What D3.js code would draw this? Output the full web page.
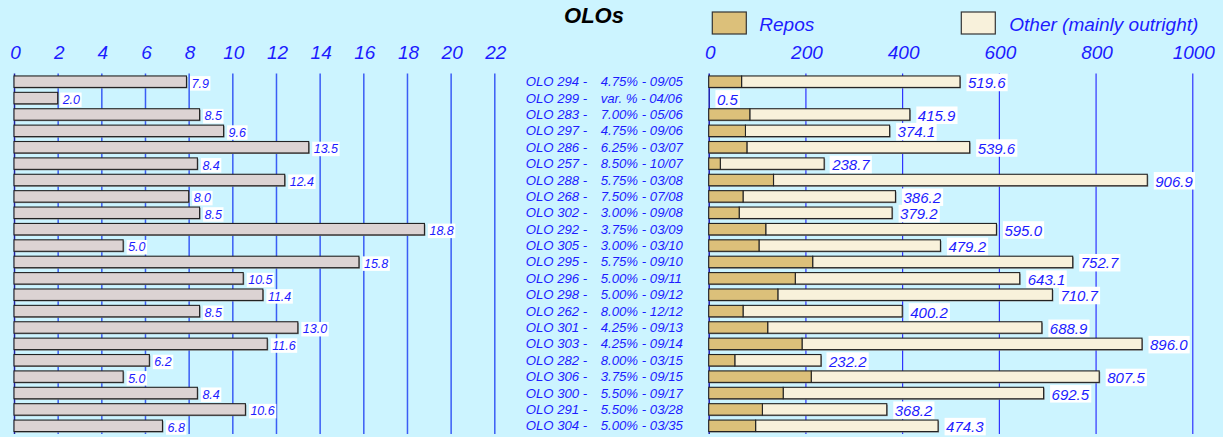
<!DOCTYPE html>
<html>
<head>
<meta charset="utf-8">
<script src="https://cdn.jsdelivr.net/npm/d3@7"></script>
<style>
  body { margin: 0; background: #ccf4ff; }
  svg { display: block; font-family: "Liberation Sans", Arial, sans-serif; }
</style>
</head>
<body>
<svg id="chart" width="1223" height="437"></svg>
<script>
// bond names and coupon / maturity (middle column)
const bondNames = ["OLO 294 -", "OLO 299 -", "OLO 283 -", "OLO 297 -", "OLO 286 -", "OLO 257 -",
  "OLO 288 -", "OLO 268 -", "OLO 302 -", "OLO 292 -", "OLO 305 -", "OLO 295 -", "OLO 296 -",
  "OLO 298 -", "OLO 262 -", "OLO 301 -", "OLO 303 -", "OLO 282 -", "OLO 306 -", "OLO 300 -",
  "OLO 291 -", "OLO 304 -"];
const couponMaturity = ["4.75% - 09/05", "var. % - 04/06", "7.00% - 05/06", "4.75% - 09/06",
  "6.25% - 03/07", "8.50% - 10/07", "5.75% - 03/08", "7.50% - 07/08", "3.00% - 09/08",
  "3.75% - 03/09", "3.00% - 03/10", "5.75% - 09/10", "5.00% - 09/11", "5.00% - 09/12",
  "8.00% - 12/12", "4.25% - 09/13", "4.25% - 09/14", "8.00% - 03/15", "3.75% - 09/15",
  "5.50% - 09/17", "5.50% - 03/28", "5.00% - 03/35"];

// left panel values
const leftValues = [7.9, 2.0, 8.5, 9.6, 13.5, 8.4, 12.4, 8.0, 8.5, 18.8, 5.0, 15.8, 10.5, 11.4,
  8.5, 13.0, 11.6, 6.2, 5.0, 8.4, 10.6, 6.8];

// right panel: repos part and total (repos + other)
const repos = [68, 0, 85, 76, 79, 24, 134, 71, 63, 118, 104, 215, 179, 143, 71, 122, 193, 54,
  212, 154, 111, 97];
const totals = [519.6, 0.5, 415.9, 374.1, 539.6, 238.7, 906.9, 386.2, 379.2, 595.0, 479.2, 752.7,
  643.1, 710.7, 400.2, 688.9, 896.0, 232.2, 807.5, 692.5, 368.2, 474.3];

const leftTicks = [0, 2, 4, 6, 8, 10, 12, 14, 16, 18, 20, 22];
const rightTicks = [0, 200, 400, 600, 800, 1000];

const svg = d3.select("#chart");
const blue = "#1c1cff";
const gridTop = 73.5, gridBottom = 434;

const y = d3.scaleBand()
  .domain(d3.range(bondNames.length))
  .range([gridTop, gridBottom])
  .paddingInner(0.3)
  .paddingOuter(0.15);

const xl = d3.scaleLinear().domain([0, 22]).range([14, 494.3]);
const xr = d3.scaleLinear().domain([0, 1000]).range([708.7, 1192.3]);

// title
svg.append("text")
  .attr("x", 594).attr("y", 22.5)
  .attr("text-anchor", "middle")
  .attr("font-size", 22).attr("font-weight", "bold").attr("font-style", "italic")
  .attr("fill", "#000")
  .text("OLOs");

// legend
const legend = [
  { name: "Repos", fill: "#dcc07a", x: 712.3, tx: 759.3 },
  { name: "Other (mainly outright)", fill: "#f8f1db", x: 961.3, tx: 1009.3 }
];
legend.forEach(l => {
  svg.append("rect").attr("x", l.x).attr("y", 12).attr("width", 34).attr("height", 22)
    .attr("fill", l.fill).attr("stroke", "#333").attr("stroke-width", 1.2);
  svg.append("text").attr("x", l.tx).attr("y", 30.5)
    .attr("font-size", 19).attr("font-style", "italic").attr("fill", blue)
    .text(l.name);
});

// axes with gridlines
function drawAxis(scale, ticks, color, width) {
  const g = svg.append("g")
    .attr("transform", `translate(0,${gridTop})`)
    .call(d3.axisTop(scale).tickValues(ticks).tickFormat(d3.format("d"))
      .tickSize(-(gridBottom - gridTop)).tickPadding(15));
  g.select(".domain").remove();
  g.selectAll(".tick line").attr("stroke", color).attr("stroke-width", width);
  g.selectAll(".tick text")
    .attr("font-size", 19).attr("font-style", "italic").attr("fill", blue)
    .attr("font-family", "'Liberation Sans', Arial, sans-serif")
    .attr("dx", 1);
  return g;
}
const gl = drawAxis(xl, leftTicks, "#3a5cf5", 1.5);
gl.selectAll(".tick line").filter(d => d === 0).attr("stroke", "#2020a0");
const gr = drawAxis(xr, rightTicks, "#2020ff", 1.1);
gr.selectAll(".tick line").filter(d => d === 0).attr("stroke", "#1a1ab0").attr("stroke-width", 1.5);

// left bars
const left = svg.append("g");
left.selectAll("rect.shadow").data(leftValues).join("rect")
  .attr("class", "shadow")
  .attr("x", xl(0) + 1).attr("y", (d, i) => y(i) + 1)
  .attr("width", d => xl(d) - xl(0)).attr("height", y.bandwidth())
  .attr("fill", "#888");
left.selectAll("rect.bar").data(leftValues).join("rect")
  .attr("class", "bar")
  .attr("x", xl(0)).attr("y", (d, i) => y(i))
  .attr("width", d => xl(d) - xl(0)).attr("height", y.bandwidth())
  .attr("fill", "#dcd3d3").attr("stroke", "#222").attr("stroke-width", 1.1);

function valueLabel(g, x, yBase, size, txt) {
  const t = g.append("text").attr("x", x).attr("y", yBase)
    .attr("font-size", size).attr("font-style", "italic").attr("fill", blue).text(txt);
  const b = t.node().getBBox();
  g.insert("rect", () => t.node())
    .attr("x", b.x - 1.5).attr("y", b.y - 0.5)
    .attr("width", b.width + 3).attr("height", b.height + 0.5)
    .attr("fill", "#fff");
}
leftValues.forEach((v, i) => {
  valueLabel(left, xl(v) + 5, y(i) + y.bandwidth() + 0.2, 12.5, v.toFixed(1));
});

// middle labels
const mid = svg.append("g").attr("font-size", 13.2).attr("font-style", "italic").attr("fill", blue);
mid.selectAll("text.name").data(bondNames).join("text")
  .attr("class", "name")
  .attr("x", 525.7).attr("y", (d, i) => y(i) + y.bandwidth() / 2 + 4.5)
  .text(d => d);
mid.selectAll("text.cm").data(couponMaturity).join("text")
  .attr("class", "cm")
  .attr("x", 600.7).attr("y", (d, i) => y(i) + y.bandwidth() / 2 + 4.5)
  .text(d => d);

// right stacked bars
const right = svg.append("g");
const rows = totals.map((t, i) => ({ i, repos: repos[i], total: t }));
const vis = rows.filter(d => d.total > 1);
right.selectAll("rect.shadow").data(vis).join("rect")
  .attr("class", "shadow")
  .attr("x", xr(0) + 1).attr("y", d => y(d.i) + 1)
  .attr("width", d => xr(d.total) - xr(0)).attr("height", y.bandwidth())
  .attr("fill", "#888");
right.selectAll("rect.other").data(vis).join("rect")
  .attr("class", "other")
  .attr("x", d => xr(d.repos)).attr("y", d => y(d.i))
  .attr("width", d => xr(d.total) - xr(d.repos)).attr("height", y.bandwidth())
  .attr("fill", "#f8f1db").attr("stroke", "#222").attr("stroke-width", 1.1);
right.selectAll("rect.repos").data(vis).join("rect")
  .attr("class", "repos")
  .attr("x", xr(0)).attr("y", d => y(d.i))
  .attr("width", d => xr(d.repos) - xr(0)).attr("height", y.bandwidth())
  .attr("fill", "#dcc07a").attr("stroke", "#222").attr("stroke-width", 1.1);
rows.forEach(d => {
  valueLabel(right, xr(d.total) + 8, y(d.i) + y.bandwidth() + 0.8, 15, d.total.toFixed(1));
});
</script>
</body>
</html>
